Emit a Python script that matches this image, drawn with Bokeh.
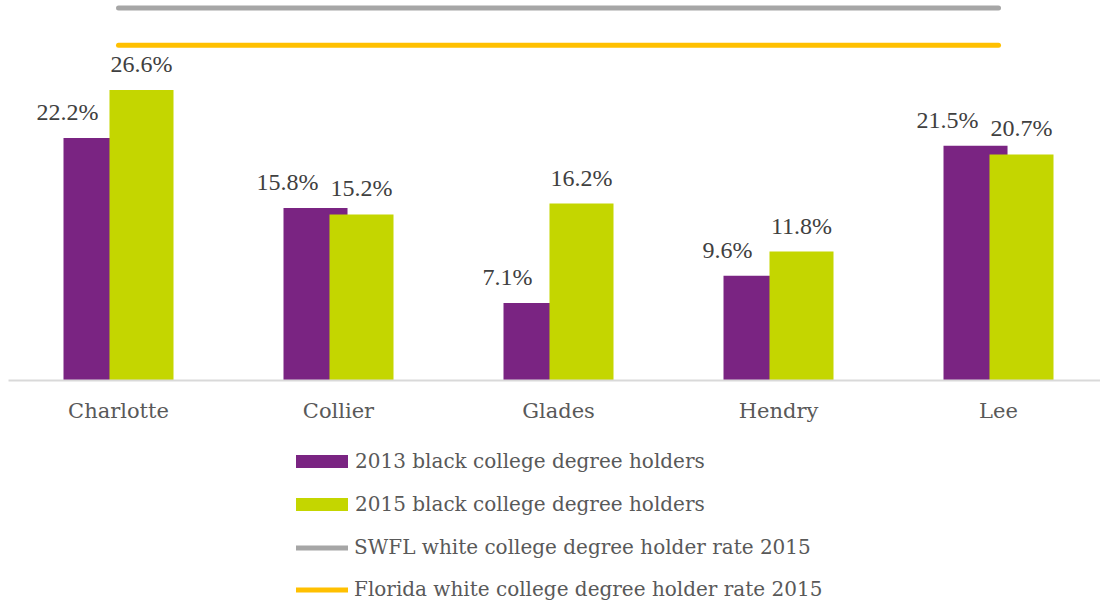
from bokeh.plotting import figure
from bokeh.layouts import column
from bokeh.models import (Range1d, FixedTicker, ColumnDataSource, LabelSet, Legend, LegendItem)
from bokeh.embed import file_html
from bokeh.resources import INLINE

counties = ["Charlotte", "Collier", "Glades", "Hendry", "Lee"]
black_2013 = [22.2, 15.8, 7.1, 9.6, 21.5]
black_2015 = [26.6, 15.2, 16.2, 11.8, 20.7]
swfl_white_2015 = 34.1
florida_white_2015 = 30.7

series_names = ["2013 black college degree holders", "2015 black college degree holders",
                "SWFL white college degree holder rate 2015", "Florida white college degree holder rate 2015"]

PURPLE = "#7A2482"
GREEN = "#C4D600"
GRAY = "#A6A6A6"
GOLD = "#FFC000"
FONT = "DejaVu Serif"
NUMFONT = "Liberation Serif"

xs = list(range(len(counties)))
off = 0.1045
bw = 0.291

src = ColumnDataSource(dict(
    x13=[x - off for x in xs], x15=[x + off for x in xs],
    v13=black_2013, v15=black_2015,
    t13=[f"{v:.1f}%" for v in black_2013], t15=[f"{v:.1f}%" for v in black_2015],
))


def draw_series(fig):
    a = fig.vbar(x="x13", top="v13", width=bw, source=src, fill_color=PURPLE, line_color=None)
    b = fig.vbar(x="x15", top="v15", width=bw, source=src, fill_color=GREEN, line_color=None)
    c = fig.line(x=[xs[0], xs[-1]], y=[swfl_white_2015] * 2, line_color=GRAY, line_width=5, line_cap="round")
    d = fig.line(x=[xs[0], xs[-1]], y=[florida_white_2015] * 2, line_color=GOLD, line_width=5, line_cap="round")
    return a, b, c, d


p = figure(frame_width=1092, frame_height=376, x_range=Range1d(-0.5, 4.4636), y_range=Range1d(0, 34.42),
           output_backend="svg", toolbar_location=None,
           min_border_left=8, min_border_right=0, min_border_top=4, min_border_bottom=68)
p.outline_line_color = None
p.grid.visible = False
p.yaxis.visible = False

draw_series(p)

for xcol, ycol, tcol, xo in (("x13", "v13", "t13", -28), ("x15", "v15", "t15", 0)):
    p.add_layout(LabelSet(x=xcol, y=ycol, text=tcol, source=src, x_offset=xo, y_offset=18,
                          text_align="center", text_baseline="alphabetic",
                          text_font=NUMFONT, text_font_size="24px", text_color="#404040"))

ax = p.xaxis[0]
ax.ticker = FixedTicker(ticks=xs)
ax.major_label_overrides = {i: c for i, c in enumerate(counties)}
ax.major_tick_line_color = None
ax.minor_tick_line_color = None
ax.axis_line_color = "#D9D9D9"
ax.axis_line_width = 2
ax.major_label_text_font = FONT
ax.major_label_text_font_size = "21px"
ax.major_label_text_color = "#595959"
ax.major_label_standoff = 12

# legend panel: same series drawn out of view, only their legend swatches show
pl = figure(frame_width=1100, frame_height=154, x_range=Range1d(100, 101), y_range=Range1d(100, 101),
            output_backend="svg", toolbar_location=None,
            min_border_left=0, min_border_right=0, min_border_top=0, min_border_bottom=0)
pl.outline_line_color = None
pl.axis.visible = False
pl.grid.visible = False
l13, l15, ls, lf = draw_series(pl)

common = dict(orientation="vertical", label_height=24,
              label_text_font=FONT, label_text_font_size="20px", label_text_color="#595959",
              border_line_color=None, background_fill_alpha=0, padding=0, margin=0)

legend_bars = Legend(items=[LegendItem(label=series_names[0], renderers=[l13]),
                            LegendItem(label=series_names[1], renderers=[l15])],
                     location=(289, 86), glyph_width=65, glyph_height=16, label_standoff=1, spacing=19,
                     **common)
legend_lines = Legend(items=[LegendItem(label=series_names[2], renderers=[ls]),
                             LegendItem(label=series_names[3], renderers=[lf])],
                      location=(296, 1), glyph_width=52, glyph_height=13, label_standoff=6, spacing=18,
                      **common)
pl.add_layout(legend_bars, "center")
pl.add_layout(legend_lines, "center")

layout = column(p, pl, spacing=0)
open("out.html", "w").write(file_html(layout, INLINE))
